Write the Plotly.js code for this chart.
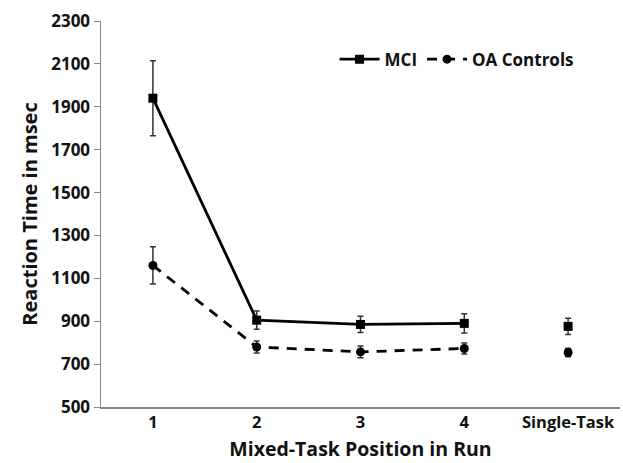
<!DOCTYPE html>
<html><head><meta charset="utf-8">
<script src="https://cdn.plot.ly/plotly-3.0.1.min.js"></script>
<style>html,body{margin:0;padding:0;background:#fff}#c{width:623px;height:463px}</style>
</head><body><div id="c"></div>
<script>
const categories = ["1", "2", "3", "4", "Single-Task"];
const mixedPositions = ["1", "2", "3", "4"];
const singleCat = ["Single-Task"];
const mciMixed = [1940, 905, 885, 890];
const mciMixedErr = [175, 43, 38, 45];
const mciSingle = [876];
const mciSingleErr = [38];
const oaMixed = [1160, 780, 757, 773];
const oaMixedErr = [87, 28, 27, 26];
const oaSingle = [754];
const oaSingleErr = [20];
const yTicks = [500, 700, 900, 1100, 1300, 1500, 1700, 1900, 2100, 2300];

const errStyle = (arr) => ({type: 'data', array: arr, visible: true, color: '#333', thickness: 1.5, width: 3});
const traces = [
  {x: mixedPositions, y: mciMixed, name: 'MCI', type: 'scatter', mode: 'lines+markers',
   line: {color: '#000', width: 2.8}, marker: {symbol: 'square', size: 9, color: '#000'},
   error_y: errStyle(mciMixedErr)},
  {x: mixedPositions, y: oaMixed, name: 'OA Controls', type: 'scatter', mode: 'lines+markers',
   line: {color: '#000', width: 2.8, dash: '10px,8px'}, marker: {symbol: 'circle', size: 9, color: '#000'},
   error_y: errStyle(oaMixedErr)},
  {x: singleCat, y: mciSingle, name: 'MCI', type: 'scatter', mode: 'markers', showlegend: false,
   marker: {symbol: 'square', size: 9, color: '#000'}, error_y: errStyle(mciSingleErr)},
  {x: singleCat, y: oaSingle, name: 'OA Controls', type: 'scatter', mode: 'markers', showlegend: false,
   marker: {symbol: 'circle', size: 9, color: '#000'}, error_y: errStyle(oaSingleErr)}
];
const fnt = {family: 'Open Sans, sans-serif', color: '#111', weight: 700};
const layout = {
  width: 623, height: 463,
  margin: {l: 101, r: 3, t: 21, b: 56},
  paper_bgcolor: '#fff', plot_bgcolor: '#fff',
  showlegend: true,
  legend: {orientation: 'h', x: 0.45, y: 0.9, xanchor: 'left', yanchor: 'middle',
           font: Object.assign({}, fnt, {size: 17}), itemwidth: 40, bgcolor: 'rgba(0,0,0,0)'},
  xaxis: {type: 'category', categoryorder: 'array', categoryarray: categories,
          range: [-0.5, 4.5], showline: true, linecolor: '#888', linewidth: 1.5,
          showgrid: false, zeroline: false, ticks: '', tickfont: Object.assign({}, fnt, {size: 16.5}),
          title: {text: 'Mixed-Task Position in Run', font: Object.assign({}, fnt, {size: 19.5}), standoff: 10}},
  yaxis: {range: [500, 2300], tickvals: yTicks, ticktext: yTicks.map(String),
          showline: true, linecolor: '#888', linewidth: 1.5, ticks: 'outside', ticklen: 6,
          tickcolor: '#888', showgrid: false, zeroline: false,
          tickfont: Object.assign({}, fnt, {size: 17}),
          title: {text: 'Reaction Time in msec', font: Object.assign({}, fnt, {size: 20}), standoff: 8}}
};
Plotly.newPlot('c', traces, layout, {displayModeBar: false, staticPlot: true});
</script></body></html>
